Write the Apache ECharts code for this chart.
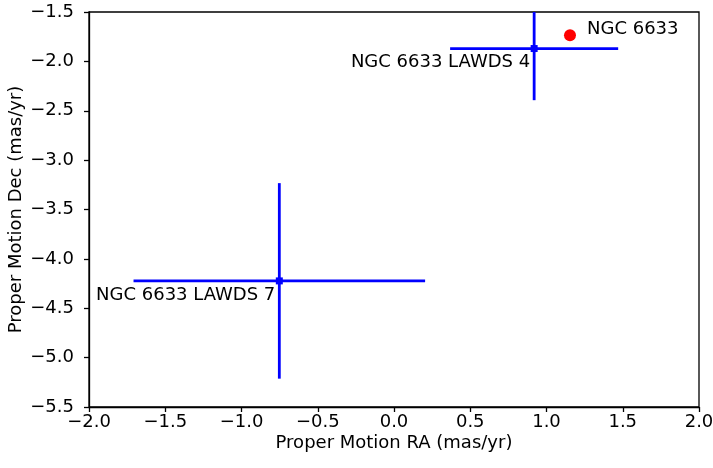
<!DOCTYPE html>
<html><head><meta charset="utf-8">
<script src="https://cdn.jsdelivr.net/npm/echarts@6/dist/echarts.min.js"></script>
<style>html,body{margin:0;padding:0;background:#fff}#c{width:713px;height:468px}</style>
</head><body><div id="c"></div>
<script>
var starNames = ['NGC 6633 LAWDS 4', 'NGC 6633 LAWDS 7'];
var starRA = [0.919, -0.752];
var starDec = [-1.870, -4.223];
var starRAerr = [0.551, 0.956];
var starDecerr = [0.523, 0.99];
var clusterName = ['NGC 6633'];
var clusterRA = [1.154];
var clusterDec = [-1.736];

var FONT = 'DejaVu Sans';
function fmt(v){ return (v < 0 ? '\u2212' : '') + Math.abs(v).toFixed(1); }

var starData = starNames.map(function(n,i){ return [starRA[i], starDec[i], starRAerr[i], starDecerr[i], n]; });
var clusterData = clusterName.map(function(n,i){ return [clusterRA[i], clusterDec[i], n]; });

var chart = echarts.init(document.getElementById('c'), null, {renderer:'canvas'});
chart.setOption({
  animation: false,
  backgroundColor: '#fff',
  grid: {left: 89, top: 12, width: 610, height: 395, show: true, borderColor: '#000', borderWidth: 1.3,
    containLabel: false, outerBoundsMode: 'none'},
  xAxis: {
    type: 'value', min: -2, max: 2, interval: 0.5,
    name: 'Proper Motion RA (mas/yr)', nameLocation: 'middle', nameGap: 27, nameMoveOverlap: false,
    nameTextStyle: {fontFamily: FONT, fontSize: 18, color: '#000'},
    axisLine: {onZero: false, lineStyle: {color: '#000', width: 1.3}},
    axisTick: {show: true, length: 5, lineStyle: {color: '#000', width: 1.3}},
    axisLabel: {fontFamily: FONT, fontSize: 18, color: '#000', margin: 6, formatter: fmt, hideOverlap: false},
    splitLine: {show: false}
  },
  yAxis: {
    type: 'value', min: -5.5, max: -1.5, interval: 0.5,
    name: 'Proper Motion Dec (mas/yr)', nameLocation: 'middle', nameGap: 64, nameMoveOverlap: false,
    nameTextStyle: {fontFamily: FONT, fontSize: 18, color: '#000'},
    axisLine: {onZero: false, lineStyle: {color: '#000', width: 1.3}},
    axisTick: {show: true, length: 5, lineStyle: {color: '#000', width: 1.3}},
    axisLabel: {fontFamily: FONT, fontSize: 18, color: '#000', margin: 15, formatter: fmt},
    splitLine: {show: false}
  },
  series: [
    {
      type: 'custom',
      data: starData,
      clip: true,
      renderItem: function(params, api){
        var cs = params.coordSys;
        var x = api.value(0), y = api.value(1), ex = api.value(2), ey = api.value(3);
        var c = api.coord([x, y]);
        var l = api.coord([x - ex, y]), r = api.coord([x + ex, y]);
        var t = api.coord([x, y + ey]), b = api.coord([x, y - ey]);
        var top = Math.max(t[1], cs.y), bot = Math.min(b[1], cs.y + cs.height);
        var st = {stroke: '#0000ff', lineWidth: 2.8};
        return {type: 'group', children: [
          {type: 'line', shape: {x1: l[0], y1: l[1], x2: r[0], y2: r[1]}, style: st},
          {type: 'line', shape: {x1: c[0], y1: top, x2: c[0], y2: bot}, style: st},
          {type: 'rect', shape: {x: c[0]-3.5, y: c[1]-3.5, width: 7, height: 7}, style: {fill: '#0000ff'}},
          {type: 'text', x: c[0] - 4, y: c[1] + 14, style: {text: api.value(4), font: '18px "DejaVu Sans"', fill: '#000', align: 'right', verticalAlign: 'middle'}}
        ]};
      }
    },
    {
      type: 'scatter',
      data: clusterData,
      symbol: 'circle', symbolSize: 12,
      itemStyle: {color: '#ff0000', opacity: 1},
      label: {show: true, formatter: function(p){ return p.value[2]; }, position: 'right', distance: 11, offset: [0, -6],
        fontFamily: FONT, fontSize: 18, color: '#000', opacity: 1}
    }
  ]
});
</script></body></html>
